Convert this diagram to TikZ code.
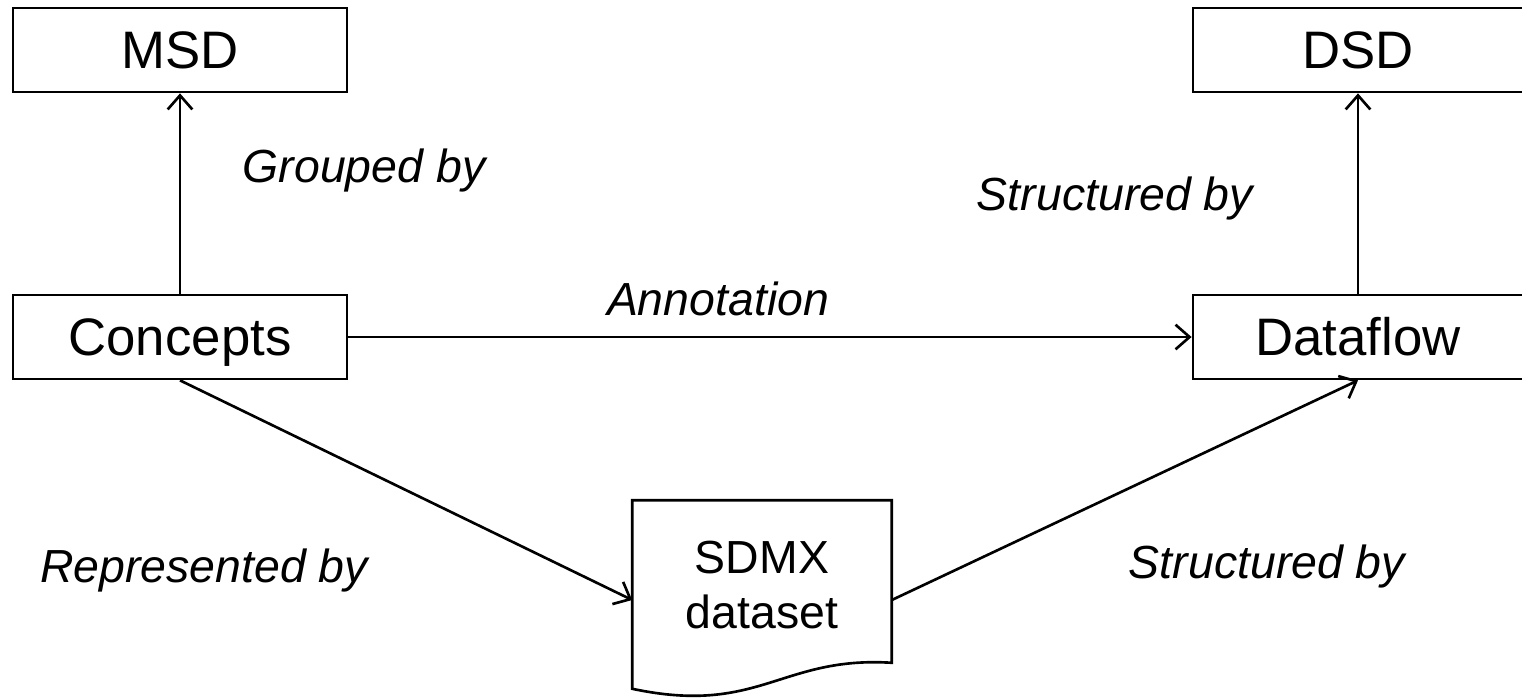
\documentclass[tikz,border=0pt]{standalone}
\usepackage{fontspec}
\setmainfont{Liberation Sans}
\usepackage{tikz}
\usetikzlibrary{arrows.meta,positioning,calc}

\begin{document}
\begin{tikzpicture}[x=0.01cm,y=-0.01cm,
    box/.style={draw, line width=0.75pt, minimum width=3.34cm, minimum height=0.84cm,
      inner sep=0pt, font=\fontsize{15}{18}\selectfont, text height=10.7pt, text depth=0pt},
    lbl/.style={font=\fontsize{13.2}{16}\selectfont\itshape, anchor=base},
    link/.style={line width=0.75pt, -{Straight Barb[length=4pt,width=7pt]}}]
    \useasboundingbox (0,0) rectangle (1522,699);

    % Boxes
    \node[box] (msd) at (180,50) {MSD};
    \node[box] (concepts) at (180,337) {Concepts};
    \node[box, minimum width=3.3cm] (dsd) at (1358,50) {DSD};
    \node[box, minimum width=3.3cm] (dataflow) at (1358,337) {Dataflow};

    % Dataset document
    \node[minimum width=2.58cm, minimum height=1.98cm, inner sep=0pt] (sdmx) at (762,600) {};
    \draw[line width=0.75pt] (sdmx.north west) -- (sdmx.north east)
      -- ($(sdmx.south east)+(0,-37)$)
      .. controls ($(sdmx.south east)+(-111,-44)$) and ($(sdmx.south west)+(127,16)$)
      .. ($(sdmx.south west)+(0,-11)$) -- cycle;
    \node[align=center, font=\fontsize{13.2}{15.6}\selectfont] (sdmxlbl) at (762,585) {SDMX\\dataset};

    % Connectors
    \draw[link] (concepts) -- (msd);
    \draw[link] (dataflow) -- (dsd);
    \draw[link] (concepts) -- (dataflow);
    \draw[link] (concepts.south) -- (sdmx.west);
    \draw[link] (sdmx.east) -- (dataflow.south);

    % Labels
    \node[lbl] (grouped) at (364,182) {Grouped by};
    \node[lbl] (structdsd) at (1115,210) {Structured by};
    \node[lbl] (annot) at (718,315) {Annotation};
    \node[lbl] (represented) at (204,582) {Represented by};
    \node[lbl] (structdf) at (1267,578) {Structured by};
\end{tikzpicture}
\end{document}
